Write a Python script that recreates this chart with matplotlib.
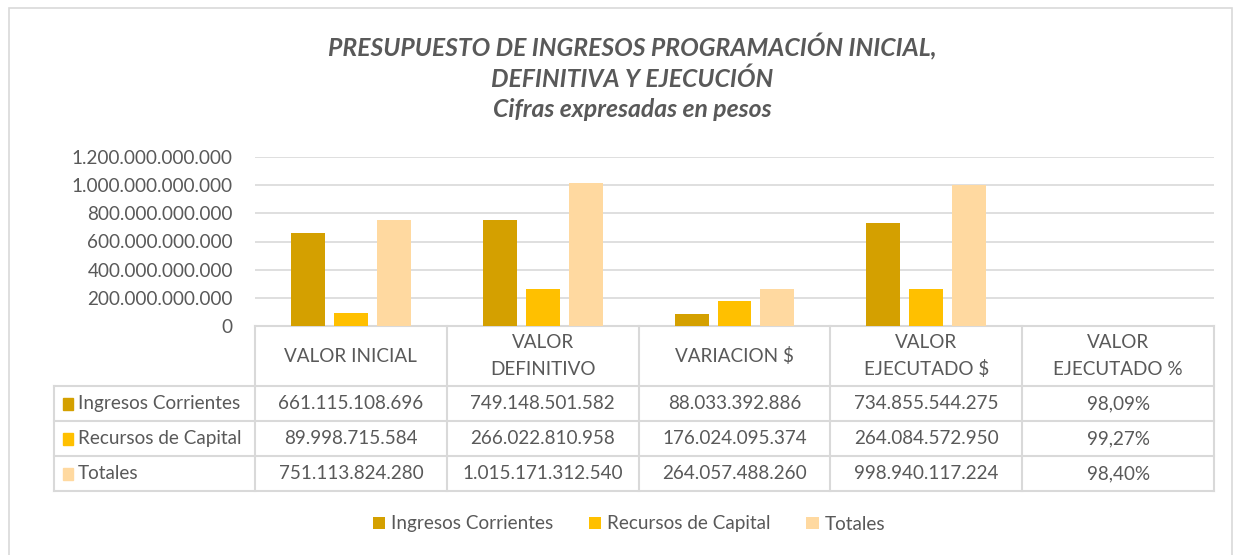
import numpy as np
import matplotlib
matplotlib.use("Agg")
import matplotlib.pyplot as plt
from matplotlib.patches import Rectangle
from matplotlib.transforms import blended_transform_factory

plt.rcParams['font.family'] = ['Lato', 'DejaVu Sans']

# Data
categorias = ['VALOR INICIAL', 'VALOR\nDEFINITIVO', 'VARIACION $',
              'VALOR\nEJECUTADO $', 'VALOR\nEJECUTADO %']
series = ['Ingresos Corrientes', 'Recursos de Capital', 'Totales']
ingresos = [661115108696, 749148501582, 88033392886, 734855544275, 0.9809]
recursos = [89998715584, 266022810958, 176024095374, 264084572950, 0.9927]
totales = [751113824280, 1015171312540, 264057488260, 998940117224, 0.9840]
colores = ['#D4A000', '#FFC000', '#FFD9A0']

gris = '#595959'
linea = '#D9D9D9'
W, H = 1241, 555
fs = 13.6

fig = plt.figure(figsize=(W / 100, H / 100), dpi=100)
# outer chart border
fig.patches.append(Rectangle((9 / W, -0.01), (1232 - 9) / W, 1 - 8 / H + 0.01,
                             transform=fig.transFigure, fill=False,
                             edgecolor=linea, lw=1.2))

ax = fig.add_axes([255 / W, (H - 326) / H, (1214 - 255) / W, (326 - 157) / H])

x = np.arange(len(categorias))
ancho = 0.177
paso = 0.224
datos = [ingresos, recursos, totales]
barras = []
for i, (vals, col, nom) in enumerate(zip(datos, colores, series)):
    b = ax.bar(x + (i - 1) * paso, vals, width=ancho, color=col, label=nom, zorder=3)
    barras.append(b)

ax.set_xlim(-0.5, len(categorias) - 0.5)
ax.set_ylim(0, 1.2e12)
ticks = np.arange(0, 1.2e12 + 1, 2e11)
ax.set_yticks(ticks)
ax.set_yticklabels([f"{v:,.0f}".replace(',', '.') for v in ticks], fontsize=fs, color=gris)
ax.tick_params(axis='y', length=0, pad=16)
ax.set_xticks([])
ax.grid(axis='y', color=linea, lw=1.2, zorder=0)
for s in ['top', 'right', 'left', 'bottom']:
    ax.spines[s].set_visible(False)

# data table drawn under the axis
tr = blended_transform_factory(ax.transData, fig.transFigure)
px = lambda y: 1 - y / H
col_izq = -0.5 - (255 - 54) / ((1214 - 255) / len(categorias))
filas_y = [326, 386, 421, 456, 491]

ax.plot([-0.5, 4.5], [px(326)] * 2, transform=tr, color=linea, lw=1.5, clip_on=False)
for yy in filas_y[1:]:
    ax.plot([col_izq, 4.5], [px(yy)] * 2, transform=tr, color=linea, lw=1.5, clip_on=False)
for xx in np.arange(-0.5, 5.0, 1.0):
    ax.plot([xx, xx], [px(326), px(491)], transform=tr, color=linea, lw=1.5, clip_on=False)
ax.plot([col_izq, col_izq], [px(386), px(491)], transform=tr, color=linea, lw=1.5, clip_on=False)

for i, c in enumerate(categorias):
    ax.text(i, px(356), c, transform=tr, ha='center', va='center', fontsize=fs,
            color=gris, linespacing=1.65)


def fmt(v, j):
    if j == 4:
        return f"{v * 100:.2f}%".replace('.', ',')
    return f"{v:,.0f}".replace(',', '.')


for r, (vals, col, nom) in enumerate(zip(datos, colores, series)):
    yc = px((filas_y[r + 1] + filas_y[r + 2]) / 2)
    ax.add_patch(Rectangle((col_izq + 0.045, yc - 6 / H), 0.055, 12 / H, transform=tr,
                           color=col, clip_on=False))
    ax.text(col_izq + 0.125, yc, nom, transform=tr, ha='left', va='center',
            fontsize=fs, color=gris)
    for j, v in enumerate(vals):
        ax.text(j, yc, fmt(v, j), transform=tr, ha='center', va='center',
                fontsize=fs, color=gris)

# title
fig.text(632 / W, px(77), "PRESUPUESTO DE INGRESOS PROGRAMACIÓN INICIAL,\nDEFINITIVA Y EJECUCIÓN\nCifras expresadas en pesos",
         ha='center', va='center', fontsize=17.8, fontweight='bold', fontstyle='italic',
         color=gris, linespacing=1.38)

fig.legend(handles=barras, labels=series, loc='center', bbox_to_anchor=(629 / W, px(524)),
           ncol=3, frameon=False, fontsize=fs, labelcolor=gris, handlelength=0.65,
           handleheight=0.65, handletextpad=0.3, columnspacing=1.9)

fig.savefig('out.png', dpi=100)
